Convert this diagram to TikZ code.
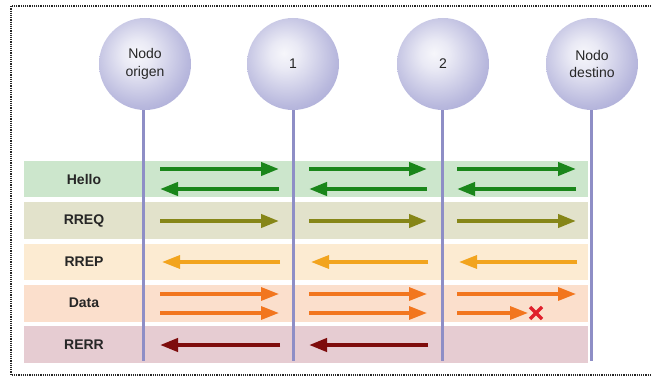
\documentclass[tikz,border=0pt]{standalone}
\usepackage{fontspec}
\setmainfont{Liberation Sans}
\usetikzlibrary{arrows.meta}
\definecolor{lav}{HTML}{9494CC}
\definecolor{lifeline}{HTML}{8E8EC6}
\definecolor{bgHello}{HTML}{CCE6CC}
\definecolor{bgRREQ}{HTML}{E2E2CB}
\definecolor{bgRREP}{HTML}{FCEBD2}
\definecolor{bgData}{HTML}{FBDFCC}
\definecolor{bgRERR}{HTML}{E6CCD2}
\definecolor{cHello}{HTML}{1A861A}
\definecolor{cRREQ}{HTML}{868618}
\definecolor{cRREP}{HTML}{F2A41E}
\definecolor{cData}{HTML}{F2761E}
\definecolor{cRERR}{HTML}{7E0C0C}
\definecolor{cX}{HTML}{E0202C}
\pgfdeclareradialshading{sphere}{\pgfpoint{-5bp}{6bp}}{color(0bp)=(white!92!lav); color(8bp)=(white!80!lav); color(26bp)=(white!35!lav); color(44bp)=(lav); color(50bp)=(lav!88!black); color(70bp)=(lav!88!black)}
\tikzset{
  ball/.style={circle, minimum size=92pt, inner sep=0pt, shading=sphere, draw=none, align=center, font=\fontsize{14}{17.5}\selectfont, text=black!85},
  lbl/.style={font=\bfseries\fontsize{14}{16}\selectfont, text=black!85},
  life/.style={draw=lifeline, line width=3pt},
  msg/.style={line width=4pt, -{Triangle[length=18pt,width=13pt]}},
  msgthin/.style={line width=3.2pt, -{Triangle[length=18pt,width=13pt]}},
}
\begin{document}
\begin{tikzpicture}[x=1pt,y=-1pt]
\useasboundingbox (0,0) rectangle (651,377);
% frame
\draw[dash pattern=on 1.2pt off 1pt, line width=1.3pt, black!85] (651,6) -- (11,6) -- (11,375) -- (651,375);
% bands
\fill[bgHello] (24,161) rectangle (588,197);
\fill[bgRREQ] (24,202) rectangle (588,239);
\fill[bgRREP] (24,244) rectangle (588,280);
\fill[bgData] (24,285) rectangle (588,322);
\fill[bgRERR] (24,326) rectangle (588,363);
% labels
\node[lbl] (lHello) at (84,179) {Hello};
\node[lbl] (lRREQ) at (84,221) {RREQ};
\node[lbl] (lRREP) at (84,262) {RREP};
\node[lbl] (lData) at (84,303) {Data};
\node[lbl] (lRERR) at (84,345) {RERR};
% lifeline ends
\coordinate (e0) at (143,361);
\coordinate (e1) at (293,361);
\coordinate (e2) at (442,361);
\coordinate (e3) at (591,361);
\draw[life] (143,100) -- (e0);
\draw[life] (293,100) -- (e1);
\draw[life] (442,100) -- (e2);
\draw[life] (591,100) -- (e3);
% nodes
\node[ball] (n0) at (145,64) {Nodo\\origen};
\node[ball] (n1) at (293,64) {1};
\node[ball] (n2) at (443,64) {2};
\node[ball] (n3) at (592,64) {Nodo\\destino};
% messages
\foreach \a/\b in {160/279, 309/427, 457/576}{
  \draw[msg, cHello] (\a,169) -- (\b,169);
  \draw[msg, cHello] (\b,189) -- (\a,189);
  \draw[msg, cRREQ] (\a,221) -- (\b,221);
  \draw[msgthin, cRREP] (\b+1,262) -- (\a+2,262);
  \draw[msgthin, cData] (\a,294) -- (\b,294);
}
\draw[msgthin, cData] (160,313) -- (279,313);
\draw[msgthin, cData] (309,313) -- (427,313);
\draw[msgthin, cData] (457,313) -- (528,313);
\draw[msg, cRERR] (280,345) -- (160,345);
\draw[msg, cRERR] (428,345) -- (309,345);
% failure mark
\coordinate (xc) at (536,313);
\draw[cX, line width=3.4pt] ([shift={(-6,-6)}]xc) -- ([shift={(6,6)}]xc)
  ([shift={(-6,6)}]xc) -- ([shift={(6,-6)}]xc);
\end{tikzpicture}
\end{document}
